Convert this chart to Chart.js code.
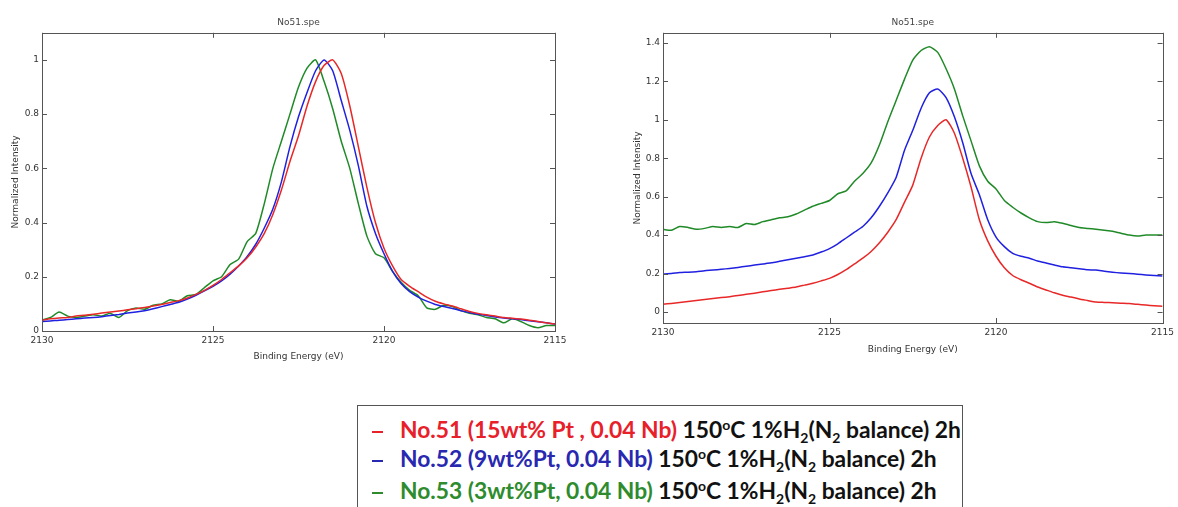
<!DOCTYPE html>
<html>
<head>
<meta charset="utf-8">
<script src="https://cdn.jsdelivr.net/npm/chart.js@4.4.1/dist/chart.umd.min.js"></script>
<style>
  body { margin: 0; background: #fff; width: 1178px; height: 507px; overflow: hidden; position: relative; }
  .box { position: absolute; }
  #legend { position: absolute; left: 357px; top: 405px; width: 606px; height: 110px; border: 1px solid #555; box-sizing: border-box;
            font-family: Lato, 'Open Sans', sans-serif; font-weight: bold; font-size: 22.8px; color: #111; }
  #legend .row { position: absolute; left: 14px; height: 30px; line-height: 30px; white-space: nowrap; }
  #legend .mk { display: inline-block; width: 11px; height: 1.5px; vertical-align: middle; margin-right: 17px; }
  #legend sub { font-size: 14px; vertical-align: -5px; line-height: 0; }
  #legend sup { font-size: 14px; vertical-align: 8px; line-height: 0; }
</style>
</head>
<body>
<div class="box" style="left:0px;top:0px;width:580px;height:372px"><canvas id="leftChart"></canvas></div>
<div class="box" style="left:590px;top:0px;width:588px;height:372px"><canvas id="rightChart"></canvas></div>
<div id="legend">
  <div class="row" style="top:8px"><span class="mk" style="background:#e8202a"></span><span style="color:#e8202a">No.51 (15wt% Pt , 0.04 Nb)</span> 150<sup>o</sup>C 1%H<sub>2</sub>(N<sub>2</sub> balance) 2h</div>
  <div class="row" style="top:37px"><span class="mk" style="background:#2828b0"></span><span style="color:#2828b0">No.52 (9wt%Pt, 0.04 Nb)</span> 150<sup>o</sup>C 1%H<sub>2</sub>(N<sub>2</sub> balance) 2h</div>
  <div class="row" style="top:69px"><span class="mk" style="background:#2e8b2e"></span><span style="color:#2e8b2e">No.53 (3wt%Pt, 0.04 Nb)</span> 150<sup>o</sup>C 1%H<sub>2</sub>(N<sub>2</sub> balance) 2h</div>
</div>
<script>
var energies = [2130, 2129.75, 2129.5, 2129.25, 2129, 2128.75, 2128.5, 2128.25, 2128, 2127.75, 2127.5, 2127.25,
  2127, 2126.75, 2126.5, 2126.25, 2126, 2125.75, 2125.5, 2125.25, 2125, 2124.75, 2124.5, 2124.25,
  2124, 2123.75, 2123.5, 2123.25, 2123, 2122.75, 2122.5, 2122.25, 2122, 2121.75, 2121.5, 2121.25,
  2121, 2120.75, 2120.5, 2120.25, 2120, 2119.75, 2119.5, 2119.25, 2119, 2118.75, 2118.5, 2118.25,
  2118, 2117.75, 2117.5, 2117.25, 2117, 2116.75, 2116.5, 2116.25, 2116, 2115.75, 2115.5, 2115.25, 2115];
var xTicks = [2130, 2125, 2120, 2115];

// left panel: normalized spectra
var left51 = [0.04, 0.045, 0.048, 0.05, 0.055, 0.058, 0.062, 0.066, 0.07, 0.074, 0.078, 0.082,
  0.087, 0.092, 0.098, 0.105, 0.112, 0.122, 0.135, 0.15, 0.168, 0.19, 0.215, 0.24,
  0.27, 0.31, 0.36, 0.43, 0.52, 0.625, 0.72, 0.83, 0.92, 0.98, 1.0, 0.95,
  0.83, 0.68, 0.53, 0.4, 0.305, 0.24, 0.19, 0.165, 0.145, 0.125, 0.11, 0.1,
  0.092, 0.082, 0.072, 0.065, 0.06, 0.055, 0.05, 0.047, 0.044, 0.04, 0.035, 0.03, 0.026];
var left52 = [0.035, 0.037, 0.04, 0.042, 0.045, 0.048, 0.05, 0.053, 0.057, 0.061, 0.066, 0.07,
  0.075, 0.082, 0.09, 0.098, 0.106, 0.118, 0.132, 0.148, 0.165, 0.185, 0.21, 0.24,
  0.275, 0.32, 0.38, 0.45, 0.55, 0.68, 0.79, 0.88, 0.96, 1.0, 0.96, 0.85,
  0.74, 0.61, 0.46, 0.36, 0.285, 0.22, 0.175, 0.145, 0.125, 0.11, 0.098, 0.09,
  0.083, 0.075, 0.068, 0.062, 0.057, 0.052, 0.048, 0.045, 0.042, 0.038, 0.034, 0.03, 0.026];
var left53 = [0.04, 0.05, 0.07, 0.055, 0.05, 0.055, 0.06, 0.055, 0.065, 0.05, 0.075, 0.085,
  0.08, 0.095, 0.1, 0.115, 0.11, 0.13, 0.135, 0.16, 0.185, 0.2, 0.245, 0.265,
  0.33, 0.36, 0.47, 0.6, 0.7, 0.8, 0.9, 0.97, 1.0, 0.92, 0.82, 0.7,
  0.6, 0.47, 0.35, 0.285, 0.27, 0.22, 0.18, 0.15, 0.13, 0.085, 0.08, 0.095,
  0.09, 0.075, 0.065, 0.06, 0.05, 0.045, 0.03, 0.045, 0.035, 0.02, 0.012, 0.02, 0.02];

// right panel: same samples, different normalization
var right51 = [0.04, 0.045, 0.05, 0.055, 0.06, 0.065, 0.07, 0.075, 0.08, 0.086, 0.092, 0.098,
  0.105, 0.112, 0.118, 0.124, 0.13, 0.14, 0.15, 0.162, 0.175, 0.195, 0.22, 0.25,
  0.28, 0.315, 0.36, 0.415, 0.48, 0.57, 0.66, 0.8, 0.91, 0.97, 1.0, 0.93,
  0.8, 0.65, 0.48, 0.37, 0.29, 0.23, 0.19, 0.168, 0.15, 0.13, 0.115, 0.1,
  0.087, 0.078, 0.068, 0.06, 0.052, 0.05, 0.048, 0.046, 0.044, 0.04, 0.036, 0.033, 0.03];
var right52 = [0.198, 0.2, 0.205, 0.207, 0.21, 0.215, 0.218, 0.222, 0.227, 0.232, 0.238, 0.244,
  0.25, 0.256, 0.264, 0.272, 0.28, 0.288, 0.297, 0.312, 0.33, 0.355, 0.385, 0.415,
  0.445, 0.49, 0.55, 0.62, 0.7, 0.84, 0.945, 1.06, 1.14, 1.16, 1.115, 1.015,
  0.88, 0.72, 0.61, 0.48, 0.39, 0.34, 0.305, 0.29, 0.28, 0.265, 0.255, 0.245,
  0.235, 0.23, 0.225, 0.22, 0.218, 0.212, 0.207, 0.203, 0.2, 0.197, 0.193, 0.19, 0.187];
var right53 = [0.43, 0.425, 0.445, 0.44, 0.43, 0.435, 0.445, 0.44, 0.445, 0.44, 0.46, 0.455,
  0.47, 0.48, 0.49, 0.495, 0.51, 0.53, 0.55, 0.565, 0.58, 0.615, 0.63, 0.68,
  0.72, 0.775, 0.87, 0.99, 1.1, 1.21, 1.31, 1.36, 1.38, 1.35, 1.265, 1.16,
  1.02, 0.89, 0.76, 0.68, 0.64, 0.58, 0.545, 0.515, 0.49, 0.47, 0.465, 0.47,
  0.462, 0.45, 0.44, 0.435, 0.43, 0.425, 0.42, 0.41, 0.4, 0.395, 0.4, 0.4, 0.4];

var redColor = '#e82828';
var blueColor = '#2020e0';
var greenColor = '#208a28';
var axisFont = { family: "'DejaVu Sans', sans-serif", size: 9, weight: 'normal' };

// box around the plot with inward tick marks on all four sides (matlab look)
var frameTicks = {
    id: 'frameTicks',
    afterDraw: function(chart){
        var ctx = chart.ctx, a = chart.chartArea, x = chart.scales.x, y = chart.scales.y;
        ctx.save();
        ctx.strokeStyle = '#555';
        ctx.lineWidth = 1;
        ctx.strokeRect(Math.round(a.left) + 0.5, Math.round(a.top) + 0.5, Math.round(a.width), Math.round(a.height));
        ctx.beginPath();
        x.ticks.forEach(function(t){
            var px = Math.round(x.getPixelForValue(t.value)) + 0.5;
            ctx.moveTo(px, a.bottom); ctx.lineTo(px, a.bottom - 5);
            ctx.moveTo(px, a.top); ctx.lineTo(px, a.top + 5);
        });
        y.ticks.forEach(function(t){
            var py = Math.round(y.getPixelForValue(t.value)) + 0.5;
            ctx.moveTo(a.left, py); ctx.lineTo(a.left + 5, py);
            ctx.moveTo(a.right, py); ctx.lineTo(a.right - 5, py);
        });
        ctx.stroke();
        ctx.restore();
    }
};

function makeSet(values, color){
    return {
        data: values.map(function(v, i){ return { x: energies[i], y: v }; }),
        borderColor: color,
        borderWidth: 1.5,
        pointRadius: 0,
        tension: 0.2,
        fill: false
    };
}

function spectrum(id, sets, yMin, yMax, padRight, yWidth, xHeight, yTitlePad, xTitlePad){
    var ctx = document.getElementById(id).getContext('2d');
    new Chart(ctx, {
        type: 'line',
        data: { datasets: sets },
        options: {
            responsive: true,
            maintainAspectRatio: false,
            animation: false,
            layout: { padding: { top: 0, right: padRight, bottom: 0, left: 0 } },
            plugins: {
                legend: { display: false },
                tooltip: { enabled: false },
                title: {
                    display: true,
                    fullSize: false,
                    text: 'No51.spe',
                    color: '#444',
                    font: axisFont,
                    padding: { top: 17, bottom: 5 }
                }
            },
            scales: {
                x: {
                    type: 'linear',
                    reverse: true,
                    min: 2115,
                    max: 2130,
                    afterBuildTicks: function(scale){
                        scale.ticks = xTicks.map(function(v){ return { value: v }; });
                    },
                    afterFit: function(scale){ scale.height = xHeight; },
                    grid: { display: false, drawTicks: false },
                    border: { display: false },
                    ticks: { color: '#333', font: axisFont, padding: 4, maxRotation: 0,
                        callback: function(v){ return String(v); } },
                    title: { display: true, text: 'Binding Energy (eV)', color: '#333', font: axisFont,
                        padding: { top: 2, bottom: xTitlePad } }
                },
                y: {
                    min: yMin,
                    max: yMax,
                    afterFit: function(scale){ scale.width = yWidth; },
                    grid: { display: false, drawTicks: false },
                    border: { display: false },
                    ticks: { stepSize: 0.2, includeBounds: false, color: '#333', font: axisFont, padding: 3,
                        callback: function(v){ return String(Number(v.toFixed(2))); } },
                    title: { display: true, text: 'Normalized Intensity', color: '#333', font: axisFont,
                        padding: { top: yTitlePad, bottom: 0 } }
                }
            }
        },
        plugins: [frameTicks]
    });
}

spectrum('leftChart', [makeSet(left51, redColor), makeSet(left52, blueColor), makeSet(left53, greenColor)],
    0, 1.1, 25, 42, 41, 10, 10);
spectrum('rightChart', [makeSet(right51, redColor), makeSet(right52, blueColor), makeSet(right53, greenColor)],
    -0.057, 1.452, 14, 73, 49, 42, 17);
</script>
</body>
</html>
